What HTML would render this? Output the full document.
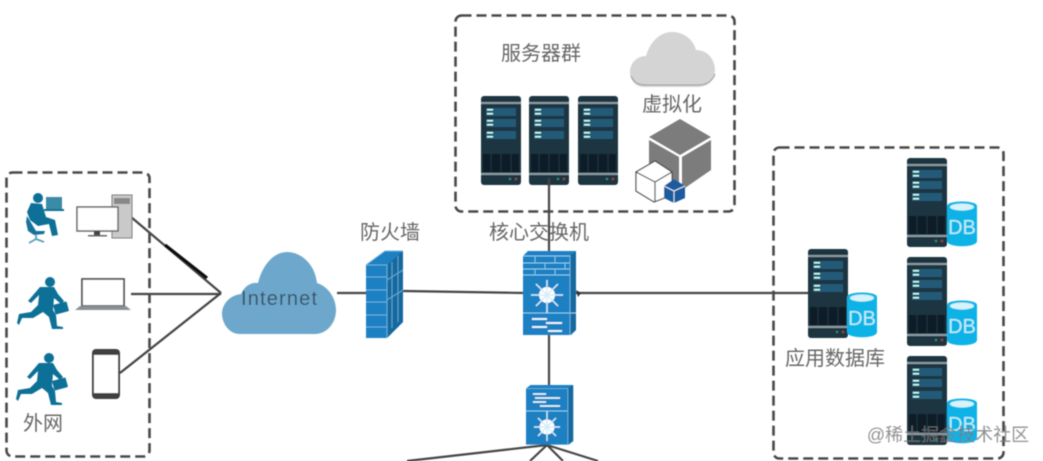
<!DOCTYPE html>
<html><head><meta charset="utf-8"><style>
html,body{margin:0;padding:0;background:#fff;overflow:hidden}
svg{display:block}
text{font-family:"Liberation Sans","Noto Sans CJK SC",sans-serif}
.l{font-size:20px;fill:#666}
</style></head><body>
<svg width="1043" height="461" viewBox="0 0 1043 461" xmlns="http://www.w3.org/2000/svg">
<defs>
<filter id="b" x="-5%" y="-5%" width="110%" height="110%"><feGaussianBlur stdDeviation="0.55"/></filter>
<g id="srv">
<rect width="40" height="89" rx="3" fill="#1f3540"/>
<rect y="6" width="40" height="2" fill="#8b9aa2"/>
<rect x="5" y="12" width="30" height="8" fill="#245a78"/><rect x="5" y="23" width="30" height="8" fill="#245a78"/><rect x="5" y="35" width="30" height="8" fill="#245a78"/>
<rect x="6" y="13" width="6" height="1.5" fill="#cfe"/><rect x="6" y="17" width="6" height="1.5" fill="#cfe"/><rect x="6" y="24" width="6" height="1.5" fill="#cfe"/><rect x="6" y="28" width="6" height="1.5" fill="#cfe"/><rect x="6" y="36" width="6" height="1.5" fill="#cfe"/><rect x="6" y="40" width="6" height="1.5" fill="#cfe"/>
<rect x="2" y="58" width="36" height="18" fill="#0d1e28"/>
<path d="M10 58V76M20 58V76M30 58V76" stroke="#24404e" stroke-width=".8"/>
<rect y="77" width="40" height="2" fill="#8b9aa2"/>
<circle cx="29" cy="83" r="1.2" fill="#3a8a70"/><circle cx="35" cy="83" r="1.2" fill="#a04050"/>
</g>
<g id="db">
<path d="M0 6C0 0 30 0 30 6V41C30 48 0 48 0 41Z" fill="#0fb2e6"/>
<ellipse cx="15" cy="7" rx="12" ry="3.500" fill="#d5f3fb"/>
<text x="15" y="34" text-anchor="middle" font-size="20" fill="#bfeefa">DB</text>
</g>
<g id="run" fill="#0f6f97">
<circle cx="33" cy="5" r="5"/>
<path d="M23 10L37 10L41 17L47 24L44 27L37 21L36 33L39 38L40 49L46 50V52H35L32 40L26 35L16 41L5 41L2 48L0 46L2 37L14 35L21 28L22 18L14 26L11 24Z"/>
<rect x="37" y="26" width="14" height="10" rx="1" transform="rotate(-15 44 31)"/>
</g>
<g id="sw"><path d="M0 5L5 0H53V79L48 84H0Z" fill="#1a80c2"/><path d="M47 5L53 0V79L47 84Z" fill="#15699f"/><path d="M0 5H47V84" fill="none" stroke="#7fc0e6" stroke-width=".8"/></g>
</defs>

<g filter="url(#b)">
<!-- connectors -->
<g stroke="#444" stroke-width="2.200" fill="none">
<path d="M131 217L221 293"/><path d="M131 294H221"/><path d="M120 373L221 293"/>
<path d="M337 293H366"/><path d="M403 291L524 293"/>
<path d="M549 178V252"/><path d="M576 293H808"/>
<path d="M549 335V385"/>
<path d="M407 461L547 445M530 461L547 445L563 461M547 445L598 461"/>
</g>
<path d="M165 245L207 278" stroke="#111" stroke-width="3.200"/>
<path d="M576 290L581 293L578 297Z" fill="#333"/>
<!-- dashed boxes -->
<g fill="none" stroke="#4a4a4a" stroke-width="2.600" stroke-dasharray="10 5">
<rect x="6.500" y="172.500" width="143" height="284" rx="6"/>
<rect x="455.500" y="15.500" width="279" height="196" rx="6"/>
<rect x="773.500" y="147.500" width="230" height="311" rx="6"/>
</g>
<!-- seated person -->
<g fill="#0f6f97">
<circle cx="38" cy="198" r="5"/>
<path d="M31 203L42 204L46 217L55 220L58 235L52 236L49 224L38 226L30 220L27 212Z"/>
<rect x="46" y="197" width="16" height="12" fill="#3b8aa8"/><rect x="44" y="209" width="20" height="2"/>
<path d="M27 216L36 231L45 231L44 234L34 235L28 231L26 222Z" fill="#15729a"/>
<path d="M36 235V240M29 243L36 239L44 242" stroke="#5aa0b8" stroke-width="1.800" fill="none"/>
</g>
<use href="#run" x="17" y="277"/>
<use href="#run" x="16" y="353"/>
<!-- PC -->
<rect x="112" y="195" width="20" height="43" fill="#c9c9c9" stroke="#777"/>
<rect x="114" y="198" width="16" height="6" fill="#888"/>
<rect x="77" y="207" width="41" height="24" fill="#fff" stroke="#666" stroke-width="1.500"/>
<rect x="94" y="231" width="6" height="4" fill="#444"/><rect x="88" y="235" width="19" height="1.500" fill="#666"/>
<!-- laptop -->
<rect x="82" y="279" width="42" height="27" fill="#fff" stroke="#555" stroke-width="1.800"/>
<path d="M80 306H126L131 310H75Z" fill="#8a9096"/>
<!-- phone -->
<rect x="92" y="349" width="28" height="50" rx="4" fill="#3f3f3f"/><rect x="94" y="355" width="24" height="38" fill="#fff"/>
<text x="43" y="430" class="l" text-anchor="middle">外网</text>
<!-- cloud -->
<path d="M240 334C228 334 222 322 222 314C222 303 231 295 241 294C245 285 252 282 258 283C263 263 275 252 287 252C301 252 315 264 317 283C327 286 336 297 336 310C336 323 327 334 315 334Z" fill="#6da8cc"/>
<text x="241" y="305" font-size="20" textLength="76" fill="#3a5366">Internet</text>
<!-- firewall -->
<path d="M366 265L385 251H403V322L387 338H366Z" fill="#1a80c2"/><path d="M387 265L403 251V322L387 338Z" fill="#15699f"/>
<path d="M366 265H387V338M366 277H387M366 290H387M366 302H387M366 315H387M366 327H387M366 265L385 251H403" fill="none" stroke="#6cb4e0" stroke-width=".9"/>
<path d="M392 262V328M398 256V322M387 280L403 270M387 300L403 290" stroke="#6cb4e0" stroke-width=".8" fill="none"/>
<text x="390" y="239" class="l" text-anchor="middle">防火墙</text>
<!-- core switch -->
<use href="#sw" x="523" y="251"/>
<path d="M523 256H570M523 263H570M523 269H570M523 275H570M523 313H576M535 256V263M555 256V263M545 263V269M565 263V269M535 269V275M555 269V275" stroke="#8ccbef" stroke-width=".9" fill="none"/>
<circle cx="547" cy="295" r="8" fill="#fff"/>
<path d="M547 280V313M531 295H563M536 284L558 306M558 284L536 306" stroke="#d5ecfa" stroke-width="1.500"/>
<path d="M532 319H547M546 323H562M532 327H547M548 331H562" stroke="#fff" stroke-width="1.800"/>
<text x="539" y="239" class="l" text-anchor="middle">核心交换机</text>
<!-- distribution switch -->
<g transform="translate(526 385) scale(.89 .71)"><use href="#sw"/></g>
<path d="M526 411H568" stroke="#8ccbef" stroke-width=".9"/>
<circle cx="547" cy="427" r="7.500" fill="#fff"/>
<path d="M547 411V441M534 427H560M538 418L556 436M556 418L538 436" stroke="#d5ecfa" stroke-width="1.400"/>
<path d="M533 394H546M535 398H560M533 402H546M540 406H560" stroke="#fff" stroke-width="1.500"/>
<!-- server cluster -->
<text x="541" y="60" class="l" text-anchor="middle">服务器群</text>
<use href="#srv" x="481" y="96"/><use href="#srv" x="529" y="96"/><use href="#srv" x="578" y="96"/>
<path d="M549 178V186" stroke="#444" stroke-width="2.200"/>
<path d="M644 87C634 87 630 79 630 72C630 62 638 56 646 56C650 42 660 32 672 32C685 32 694 41 696 50C708 50 715 60 715 70C715 80 708 87 698 87Z" fill="#d4d4d4"/>
<path d="M631 76C635 84 640 85 646 85H698C706 85 712 82 715 74" stroke="#999" fill="none"/>
<text x="672" y="111" class="l" text-anchor="middle">虚拟化</text>
<!-- cube -->
<path d="M649 137L680 119L711 137L680 155Z" fill="#7c7c7c"/>
<path d="M649 140L679 157V185L665 195L649 165Z" fill="#7c7c7c"/>
<path d="M682 157L711 140V170L682 190Z" fill="#7c7c7c"/>
<path d="M636 172L655 161L672 172V195L654 202L636 191Z" fill="#fff" stroke="#444" stroke-width="1.200"/>
<path d="M636 172L655 182L672 172M655 182V202" fill="none" stroke="#444" stroke-width="1.200"/>
<path d="M674 179L685 186V198L674 203L664 198V186Z" fill="#1a5c9e"/>
<path d="M664 186L674 191L685 186M674 191V203" fill="none" stroke="#fff" stroke-width=".8"/>
<!-- databases -->
<use href="#srv" x="808" y="249"/><use href="#db" x="847" y="291"/>
<use href="#srv" x="907" y="158"/><use href="#db" x="947" y="200"/>
<use href="#srv" x="907" y="257"/><use href="#db" x="947" y="299"/>
<use href="#srv" x="907" y="356"/><use href="#db" x="947" y="397"/>
<text x="835" y="365" class="l" text-anchor="middle">应用数据库</text>
<text x="948" y="441" text-anchor="middle" font-size="18" fill="#777" fill-opacity=".8">@稀土掘金技术社区</text>
</g>
</svg>
</body></html>
